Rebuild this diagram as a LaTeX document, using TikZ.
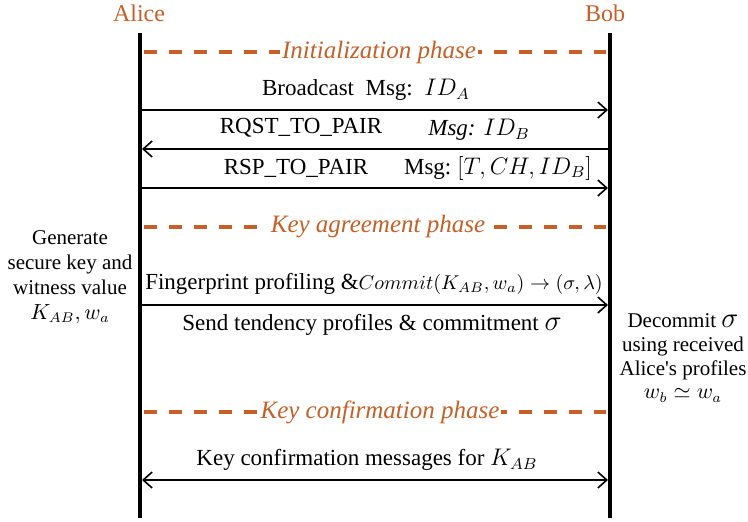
\documentclass[tikz,border=0pt]{standalone}
\usepackage{fontspec}
\setmainfont{LiberationSerif}[Extension=.ttf, UprightFont=*-Regular,
  ItalicFont=*-Italic, BoldFont=*-Bold, BoldItalicFont=*-BoldItalic]
\usetikzlibrary{arrows.meta, positioning}
\definecolor{phasecol}{RGB}{196, 96, 40}

\tikzset{
  lifeline/.style={line width=1.9pt},
  barb/.tip={Straight Barb[length=4.5pt, width=8pt]},
  msgarrow/.style={line width=0.8pt, -barb},
  bothways/.style={line width=0.8pt, barb-barb},
  phaseline/.style={phasecol, line width=2pt, dash pattern=on 6.5pt off 6pt},
  phaselabel/.style={phasecol, fill=white, inner sep=1pt,
                     font=\fontsize{12.5}{15}\selectfont\itshape},
  party/.style={phasecol, font=\fontsize{12}{14}\selectfont},
  msglabel/.style={font=\fontsize{11.5}{14}\selectfont},
  sidenote/.style={align=center, font=\fontsize{10.5}{12.5}\selectfont},
}

\begin{document}
\begin{tikzpicture}[x=0.5pt, y=-0.5pt]
    \useasboundingbox (0,0) rectangle (748,521);

    % Parties
    \node[party] (alice) at (139,13) {Alice};
    \node[party] (bob) at (605,13) {Bob};

    % Lifelines
    \coordinate (aliceTop) at (140,33);
    \coordinate (aliceEnd) at (140,518);
    \coordinate (bobTop) at (610,33);
    \coordinate (bobEnd) at (610,518);
    \draw[lifeline] (aliceTop) -- (aliceEnd);
    \draw[lifeline] (bobTop) -- (bobEnd);

    % Ends of the messages on the lifelines
    \foreach \n/\y in {bcast/110, rqst/149, rsp/188, fp/305, conf/480} {
        \coordinate (a-\n) at (142,\y);
        \coordinate (b-\n) at (608,\y);
    }

    % Phases
    \foreach \n/\y in {init/52, agree/227, confirm/412} {
        \coordinate (pl-\n) at (144,\y);
        \coordinate (pr-\n) at (606,\y);
        \draw[phaseline] (pl-\n) -- (pr-\n);
    }
    \node[phaselabel] (initLbl) at (379,52) {Initialization phase};
    \node[phaselabel] (agreeLbl) at (378,227) {Key agreement phase};
    \node[phaselabel] (confirmLbl) at (380,412) {Key confirmation phase};

    % Initialization messages
    \draw[msgarrow] (a-bcast) -- (b-bcast);
    \node[msglabel] (bcastLbl) at (366,90) {Broadcast\ \ Msg:\ \ $ID_A$};

    \draw[msgarrow] (b-rqst) -- (a-rqst);
    \node[msglabel] (rqstLbl) at (301,128) {RQST\_TO\_PAIR};
    \node[msglabel] (rqstMsg) at (479,130) {\textit{Msg:} $ID_B$};

    \draw[msgarrow] (a-rsp) -- (b-rsp);
    \node[msglabel] (rspLbl) at (296,168) {RSP\_TO\_PAIR};
    \node[msglabel] (rspMsg) at (498,168) {Msg:\ $[T,CH,ID_B]$};

    % Key agreement
    \node[sidenote] (genNote) at (70,277)
        {Generate\\secure key and\\witness value\\$K_{AB},w_a$};
    \draw[msgarrow] (a-fp) -- (b-fp);
    \node[msglabel] (fpLbl) at (374,284)
        {Fingerprint profiling \&{\fontsize{9.6}{11}\selectfont
         $Commit(K_{AB},w_a)\rightarrow(\sigma,\lambda)$}};
    \node[msglabel] (sendLbl) at (372,325)
        {Send tendency profiles \& commitment {\Large$\sigma$}};
    \node[sidenote, font=\fontsize{10.5}{11.8}\selectfont] (decNote) at (683,358)
        {Decommit {\Large$\sigma$}\\using received\\Alice\textquotesingle s profiles\\$w_b\simeq w_a$};

    % Key confirmation
    \draw[bothways] (a-conf) -- (b-conf);
    \node[msglabel] (confLbl) at (367,460) {Key confirmation messages for $K_{AB}$};
\end{tikzpicture}
\end{document}
